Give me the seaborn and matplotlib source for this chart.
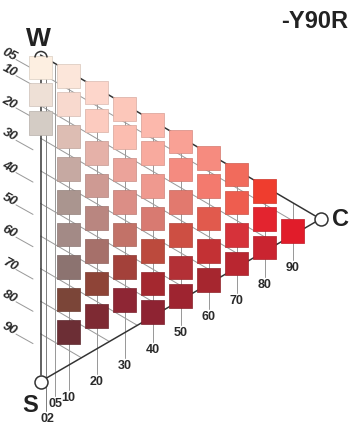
import matplotlib
matplotlib.use("Agg")
import matplotlib.pyplot as plt
from matplotlib.patches import Arc
from matplotlib.colors import to_rgb
import numpy as np
import pandas as pd
import seaborn as sns

# ---------------- data ----------------
hue_label = "-Y90R"
vertex_labels = ["W", "S", "C"]

# swatches per chromaticness column: blackness values and colours
col_c00_s = [5, 10, 20]
col_c00_rgb = ["#FDEFE1", "#EEE0D6", "#D4CCC5"]
col_c10_s = [5, 10, 20, 30, 40, 50, 60, 70, 80]
col_c10_rgb = ["#FCE6DA", "#F8D9CE", "#DDBDB3", "#C6A9A2", "#AA958F",
               "#A38A86", "#8C7370", "#7B4538", "#6C2E35"]
col_c20_s = [5, 10, 20, 30, 40, 50, 60, 70]
col_c20_rgb = ["#FDD6CB", "#FCCBBF", "#E5B1A8", "#CE9A93", "#B98680",
               "#A6706A", "#8E4437", "#7E2A33"]
col_c30_s = [5, 10, 20, 30, 40, 50, 60]
col_c30_rgb = ["#FCC7BA", "#FBBDB0", "#EBA39A", "#DB8E86", "#C27268",
               "#A3413A", "#8E2634"]
col_c40_s = [5, 10, 20, 30, 40, 50, 60]
col_c40_rgb = ["#FCB8AC", "#F8AA9E", "#EF998F", "#D87A71", "#BC4A3D",
               "#A4282F", "#8E2332"]
col_c50_s = [5, 10, 20, 30, 40, 50]
col_c50_rgb = ["#F9A195", "#F48B80", "#E2796E", "#CD4F43", "#B33036", "#9E2430"]
col_c60_s = [5, 10, 20, 30, 40]
col_c60_rgb = ["#F68B7F", "#F37A6E", "#E15A4D", "#C33134", "#A6262F"]
col_c70_s = [5, 10, 20, 30]
col_c70_rgb = ["#F16B5C", "#EE5D4F", "#D6323A", "#B92630"]
col_c80_s = [5, 10, 20]
col_c80_rgb = ["#EF3D2E", "#E3242F", "#CA2430"]
col_c90_s = [10]
col_c90_rgb = ["#E11C2A"]

blackness_ticks = [5, 10, 20, 30, 40, 50, 60, 70, 80, 90]
blackness_tick_labels = ["05", "10", "20", "30", "40", "50", "60", "70", "80", "90"]
chroma_ticks = [2, 5, 10, 20, 30, 40, 50, 60, 70, 80, 90]
chroma_tick_labels = ["02", "05", "10", "20", "30", "40", "50", "60", "70", "80", "90"]

# ---------------- layout (pixel geometry of the NCS triangle) ----------------
X_W, Y_W = 40.5, 55.0       # W corner
PX_C = 2.8                  # x px per chroma unit
PY_S = 3.26                 # y px per blackness unit
PY_C = 1.64                 # y px per chroma unit
S_XY = (40.5, 381.5)
C_XY = (320.5, 219.0)
SW = 23.5                   # swatch side in px

columns = [(0, col_c00_s, col_c00_rgb), (10, col_c10_s, col_c10_rgb),
           (20, col_c20_s, col_c20_rgb), (30, col_c30_s, col_c30_rgb),
           (40, col_c40_s, col_c40_rgb), (50, col_c50_s, col_c50_rgb),
           (60, col_c60_s, col_c60_rgb), (70, col_c70_s, col_c70_rgb),
           (80, col_c80_s, col_c80_rgb), (90, col_c90_s, col_c90_rgb)]

neutral_draw_s = {5: 3.8, 10: 12.1, 20: 20.9}


def ncs_x(c):
    return X_W + PX_C * c


def ncs_y(c, s):
    return Y_W + PY_S * s + PY_C * c


def bottom_edge_y(x):
    return S_XY[1] + (C_XY[1] - S_XY[1]) / (C_XY[0] - S_XY[0]) * (x - S_XY[0])


rows = []
for c, s_list, rgb_list in columns:
    for s, col in zip(s_list, rgb_list):
        if c == 0:
            sd = neutral_draw_s[s]
            y = ncs_y(0, sd)
        else:
            sd = 1.4 if s == 5 else s
            y = ncs_y(c, sd) - (4 if s + c == 100 else 0)
        rows.append(dict(id=f"S {s:02d}{c:02d}", c=c, s=s,
                         x=ncs_x(c), y=y, color=col))
df = pd.DataFrame(rows)

# ---------------- figure ----------------
sns.set_theme(style="white")
plt.rcParams['font.family'] = ['Liberation Sans', 'DejaVu Sans']

DPI = 100
fig = plt.figure(figsize=(3.5, 4.26), dpi=DPI)
ax = fig.add_axes([0, 0, 1, 1])
ax.set_xlim(0, 350)
ax.set_ylim(426, 0)
ax.axis("off")

px2pt = 72.0 / DPI
GRAY = "#9a9a9a"
DARK = "#333333"
lw_thin = 1.0 * px2pt
lw_dark = 1.5 * px2pt

# constant blackness lines (gray)
slope_top = (C_XY[1] - Y_W) / (C_XY[0] - X_W)
slope_bot = (C_XY[1] - S_XY[1]) / (C_XY[0] - S_XY[0])
for s in blackness_ticks[1:]:
    y0 = Y_W - 14.6 + PY_S * s
    t_end = (S_XY[1] - y0) / (slope_top - slope_bot)
    xs = np.array([X_W, X_W + t_end])
    ax.plot(xs, y0 + slope_top * (xs - X_W), color=GRAY, lw=lw_thin, zorder=1)

# label lines on the left (blackness scale)
for s, lab in zip(blackness_ticks, blackness_tick_labels):
    ly = 103 + 3.23 * (s - 20)
    ax.plot([16, 33], [ly + 5, ly + 14.5], color=GRAY, lw=lw_thin, zorder=1)
    ax.text(9.5, ly, lab, ha="center", va="center", rotation=-28,
            rotation_mode="anchor", fontsize=9.5, fontweight="bold",
            fontstyle="italic", color="#2a2a2a")

# vertical chroma lines + bottom labels
label_nudge = {2: 7.5, 5: -2.5}
label_dx = {2: 1.0, 5: 1.0}
for c, lab in zip(chroma_ticks, chroma_tick_labels):
    x = ncs_x(c)
    ly = bottom_edge_y(x) + 31.5 + label_nudge.get(c, 0)
    ytop = Y_W + slope_top * (x - X_W) + (2 if c < 10 else 0)
    ax.plot([x, x], [ytop, ly - 6.5], color=GRAY if c >= 5 else "#808080",
            lw=lw_thin, zorder=1)
    ax.text(x + label_dx.get(c, 0), ly + 4.6, lab, ha="center", va="baseline",
            fontsize=9, fontweight="bold", color="#2a2a2a")

# triangle edges
ax.plot([X_W, X_W], [Y_W + 2, S_XY[1] - 6.5], color=DARK, lw=lw_dark, zorder=2)
ax.plot([X_W, C_XY[0]], [Y_W, C_XY[1]], color=DARK, lw=lw_dark, zorder=2)
ax.plot([S_XY[0], C_XY[0]], [S_XY[1], C_XY[1]], color=DARK, lw=lw_dark, zorder=2)

# swatches
edge_cols = [tuple(np.clip(np.array(to_rgb(cl)) * 0.86, 0, 1)) for cl in df["color"]]
sns.scatterplot(data=df, x="x", y="y", hue="id",
                palette=dict(zip(df["id"], df["color"])), legend=False,
                marker="s", s=(SW * px2pt) ** 2, edgecolor=edge_cols,
                linewidth=0.5, ax=ax, zorder=3)

# vertices
vert = pd.DataFrame(dict(x=[S_XY[0], C_XY[0]], y=[S_XY[1], C_XY[1]]))
sns.scatterplot(data=vert, x="x", y="y", marker="o", s=(13 * px2pt) ** 2,
                color="white", edgecolor=DARK, linewidth=1.1, ax=ax, zorder=4)
ax.add_patch(Arc((41, 57.5), 12, 12, theta1=180, theta2=360,
                 color=DARK, lw=1.1, zorder=4))

# corner letters and hue name
big = dict(fontweight="bold", color="#222222", va="baseline")
ax.text(38.5, 45.5, vertex_labels[0], ha="center", fontsize=19, **big)
ax.text(30.5, 412, vertex_labels[1], ha="center", fontsize=17, **big)
ax.text(332, 226.5, vertex_labels[2], ha="left", fontsize=17, **big)
ax.text(348, 28, hue_label, ha="right", fontsize=17, **big)

ax.set_xlabel("")
ax.set_ylabel("")
fig.savefig("out.png", dpi=DPI)
